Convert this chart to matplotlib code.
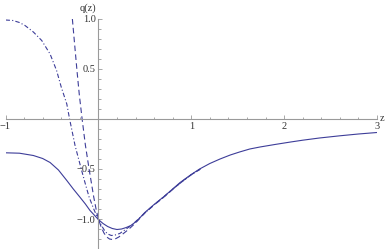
import matplotlib
matplotlib.use("Agg")
import matplotlib.pyplot as plt
import numpy as np
from matplotlib.ticker import FixedLocator

# ---- data ----
solid_x = [-1.0, -0.85, -0.7, -0.6, -0.52, -0.43, -0.34, -0.27, -0.2, -0.14, -0.09, -0.04, 0.0,
           0.05, 0.1, 0.15, 0.2, 0.25, 0.3, 0.35, 0.4, 0.45, 0.5, 0.6, 0.7, 0.8, 0.88, 1.0,
           1.09, 1.2, 1.31, 1.42, 1.52, 1.63, 1.74, 1.9, 2.07, 2.2, 2.38, 2.6, 2.8, 3.0]
solid_y = [-0.338, -0.342, -0.365, -0.395, -0.435, -0.51, -0.615, -0.70, -0.78, -0.85, -0.915, -0.965, -1.005,
           -1.045, -1.075, -1.095, -1.105, -1.10, -1.085, -1.065, -1.03, -0.985, -0.935, -0.855, -0.78, -0.70, -0.635, -0.555,
           -0.50, -0.445, -0.40, -0.36, -0.33, -0.30, -0.28, -0.255, -0.23, -0.212, -0.19, -0.168, -0.15, -0.135]

dash_x = [-0.28, -0.255, -0.23, -0.205, -0.175, -0.14, -0.10, -0.075, -0.05, -0.025, 0.0,
          0.03, 0.06, 0.09, 0.12, 0.15, 0.18, 0.22, 0.27, 0.33, 0.4, 0.45, 0.5, 0.6, 0.7, 0.8, 0.9, 1.0, 1.1]
dash_y = [1.0, 0.74, 0.48, 0.24, 0.0, -0.26, -0.50, -0.64, -0.78, -0.90, -1.0,
          -1.08, -1.14, -1.18, -1.20, -1.205, -1.20, -1.18, -1.145, -1.10, -1.04, -0.99, -0.94, -0.86, -0.785, -0.705, -0.625, -0.557, -0.50]

dashdot_x = [-1.0, -0.92, -0.85, -0.79, -0.70, -0.61, -0.52, -0.45, -0.40, -0.34, -0.31,
             -0.25, -0.18, -0.14, -0.10, -0.05, -0.01, 0.03, 0.07, 0.1, 0.14, 0.18, 0.23,
             0.3, 0.36, 0.42, 0.5, 0.6, 0.7, 0.8, 0.9, 1.0, 1.1]
dashdot_y = [0.99, 0.985, 0.965, 0.935, 0.87, 0.785, 0.65, 0.485, 0.32, 0.15, 0.0,
             -0.27, -0.515, -0.65, -0.78, -0.90, -0.985, -1.06, -1.12, -1.15, -1.165, -1.16, -1.145,
             -1.10, -1.06, -1.01, -0.94, -0.858, -0.782, -0.702, -0.628, -0.557, -0.50]

x_major = [-1, 1, 2, 3]
x_major_labels = ["\u22121", "1", "2", "3"]
y_major = [-1.0, -0.5, 0.5, 1.0]
y_major_labels = ["\u22121.0", "\u22120.5", "0.5", "1.0"]

color = "#3d3d99"
axis_color = "#9a9a9a"

fig = plt.figure(figsize=(3.9, 2.49), dpi=100)
ax = fig.add_axes([5.5 / 390, 0.0, 371.5 / 390, 230 / 249])
ax.set_xlim(-1, 3)
ax.set_ylim(-1.3, 1.0)

ax.plot(solid_x, solid_y, color=color, lw=0.8, solid_capstyle="butt")
ax.plot(dash_x, dash_y, color=color, lw=0.8, ls=(0, (5, 3)))
ax.plot(dashdot_x, dashdot_y, color=color, lw=0.8, ls=(0, (4, 2, 1, 2)))

for s in ["top", "right"]:
    ax.spines[s].set_visible(False)
ax.spines["left"].set_position(("data", 0))
ax.spines["bottom"].set_position(("data", 0))
for s in ["left", "bottom"]:
    ax.spines[s].set_color(axis_color)
    ax.spines[s].set_linewidth(0.8)
ax.patch.set_visible(False)

ax.xaxis.set_major_locator(FixedLocator(x_major))
ax.set_xticklabels(x_major_labels)
xminor = [v for v in np.round(np.arange(-1, 3.01, 0.2), 2) if abs(v) > 1e-9 and v not in x_major]
ax.xaxis.set_minor_locator(FixedLocator(xminor))
ax.yaxis.set_major_locator(FixedLocator(y_major))
ax.set_yticklabels(y_major_labels)
yminor = [v for v in np.round(np.arange(-1.3, 1.01, 0.1), 2) if abs(v) > 1e-9 and v not in y_major]
ax.yaxis.set_minor_locator(FixedLocator(yminor))

ax.tick_params(which="both", direction="in", color=axis_color, width=0.6,
               labelsize=7.5, labelcolor="#333333")
ax.tick_params(which="major", length=3.2, pad=2)
ax.tick_params(which="minor", length=1.8)
for lab in ax.get_xticklabels() + ax.get_yticklabels():
    lab.set_family("Liberation Serif")

ax.text(-0.02, 1.06, "q(z)", ha="right", va="bottom", fontsize=7.5, family="Liberation Serif",
        color="#333333", transform=ax.transData, clip_on=False)
ax.text(3.03, 0.005, "z", ha="left", va="center", fontsize=7.5, family="Liberation Serif",
        color="#333333", transform=ax.transData, clip_on=False)

fig.savefig("out.png", dpi=100)
